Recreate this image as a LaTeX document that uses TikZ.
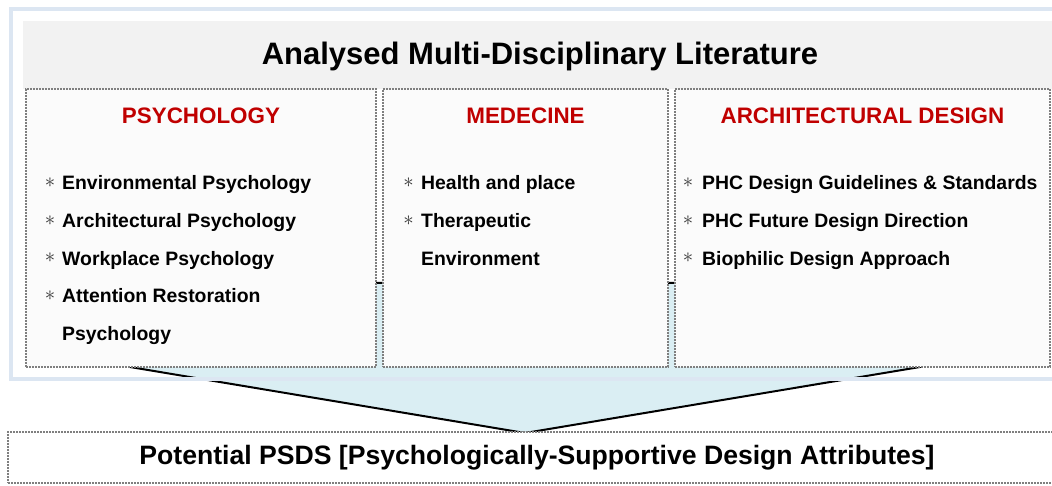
\documentclass[tikz,border=0pt]{standalone}
\usepackage{fontspec}
\setmainfont{Liberation Sans}
\definecolor{headred}{HTML}{C00000}
\definecolor{bandgray}{HTML}{F2F2F2}
\definecolor{frameblue}{HTML}{DCE6F2}
\definecolor{funnelblue}{HTML}{DAEEF3}
\definecolor{dotgray}{HTML}{7F7F7F}
\definecolor{panelfill}{HTML}{FBFBFB}
\tikzstyle{panel}=[rectangle,
                   draw=dotgray,
                   fill=panelfill,
                   line width=2pt,
                   dash pattern=on 1.8pt off 1.2pt,
                   inner sep=0pt ]
\tikzstyle{heading}=[anchor=base, inner sep=0pt, text=headred,
                     font=\bfseries\fontsize{22.4}{22.4}\selectfont]
\tikzstyle{item}=[anchor=base west, inner sep=0pt,
                  font=\bfseries\fontsize{19.4}{19.4}\selectfont]
\tikzstyle{itemstar}=[inner sep=0pt, text=black!80,
                      font=\fontsize{21}{21}\selectfont]

\begin{document}
\begin{tikzpicture}[x=1pt, y=-1pt]
    \useasboundingbox (0,0) rectangle (1052,486);
    \clip (0,0) rectangle (1052,486);

    % title band
    \node at (541.5, 55) (band) [rectangle, fill=bandgray, inner sep=0pt,
        minimum width=1037pt, minimum height=68pt] {};
    \node at (540, 65) (title) [anchor=base, inner sep=0pt,
        font=\bfseries\fontsize{31}{31}\selectfont] {Analysed Multi-Disciplinary Literature};

    % funnel behind the panels
    \draw[fill=funnelblue, line width=2pt] (130,283) -- (920,283) -- (920,367)
        -- (525,433) -- (130,367) -- cycle;

    % outer frame
    \draw[frameblue, line width=4pt] (10.5,9) rectangle (1070,379);

    % the three panels
    \node at (201, 228) (psych) [panel, minimum width=350pt, minimum height=278pt] {};
    \node at (525.5, 228) (medic) [panel, minimum width=285pt, minimum height=278pt] {};
    \node at (862.5, 228) (archi) [panel, minimum width=375pt, minimum height=278pt] {};

    \node at (201, 124) (psychHead) [heading] {PSYCHOLOGY};
    \node at (525.5, 124) (medicHead) [heading] {MEDECINE};
    \node at (862.5, 124) (archiHead) [heading] {ARCHITECTURAL DESIGN};

    \foreach \txt [count=\k from 0] in {Environmental Psychology, Architectural Psychology,
                                       Workplace Psychology, Attention Restoration} {
        \node at (50, 182.5 + 37.8*\k) (psychStar\k) [itemstar] {$\ast$};
        \node at (62, 189.5 + 37.8*\k) (psychItem\k) [item] {\txt};
    }
    \node at (62, 340.7) (psychItem4) [item] {Psychology};

    \foreach \txt [count=\k from 0] in {Health and place, Therapeutic} {
        \node at (408.5, 182.5 + 37.8*\k) (medicStar\k) [itemstar] {$\ast$};
        \node at (421, 189.5 + 37.8*\k) (medicItem\k) [item] {\txt};
    }
    \node at (421, 265.1) (medicItem2) [item] {Environment};

    \foreach \txt [count=\k from 0] in {PHC Design Guidelines \& Standards,
                                       PHC Future Design Direction, Biophilic Design Approach} {
        \node at (688, 182.5 + 37.8*\k) (archiStar\k) [itemstar] {$\ast$};
        \node at (702, 189.5 + 37.8*\k) (archiItem\k) [item] {\txt};
    }

    % result box
    \node at (537, 457.5) (psds) [panel, fill=white, minimum width=1058pt, minimum height=51pt,
        font=\bfseries\fontsize{26.6}{26.6}\selectfont]
        {Potential PSDS [Psychologically-Supportive Design Attributes]};
\end{tikzpicture}
\end{document}
